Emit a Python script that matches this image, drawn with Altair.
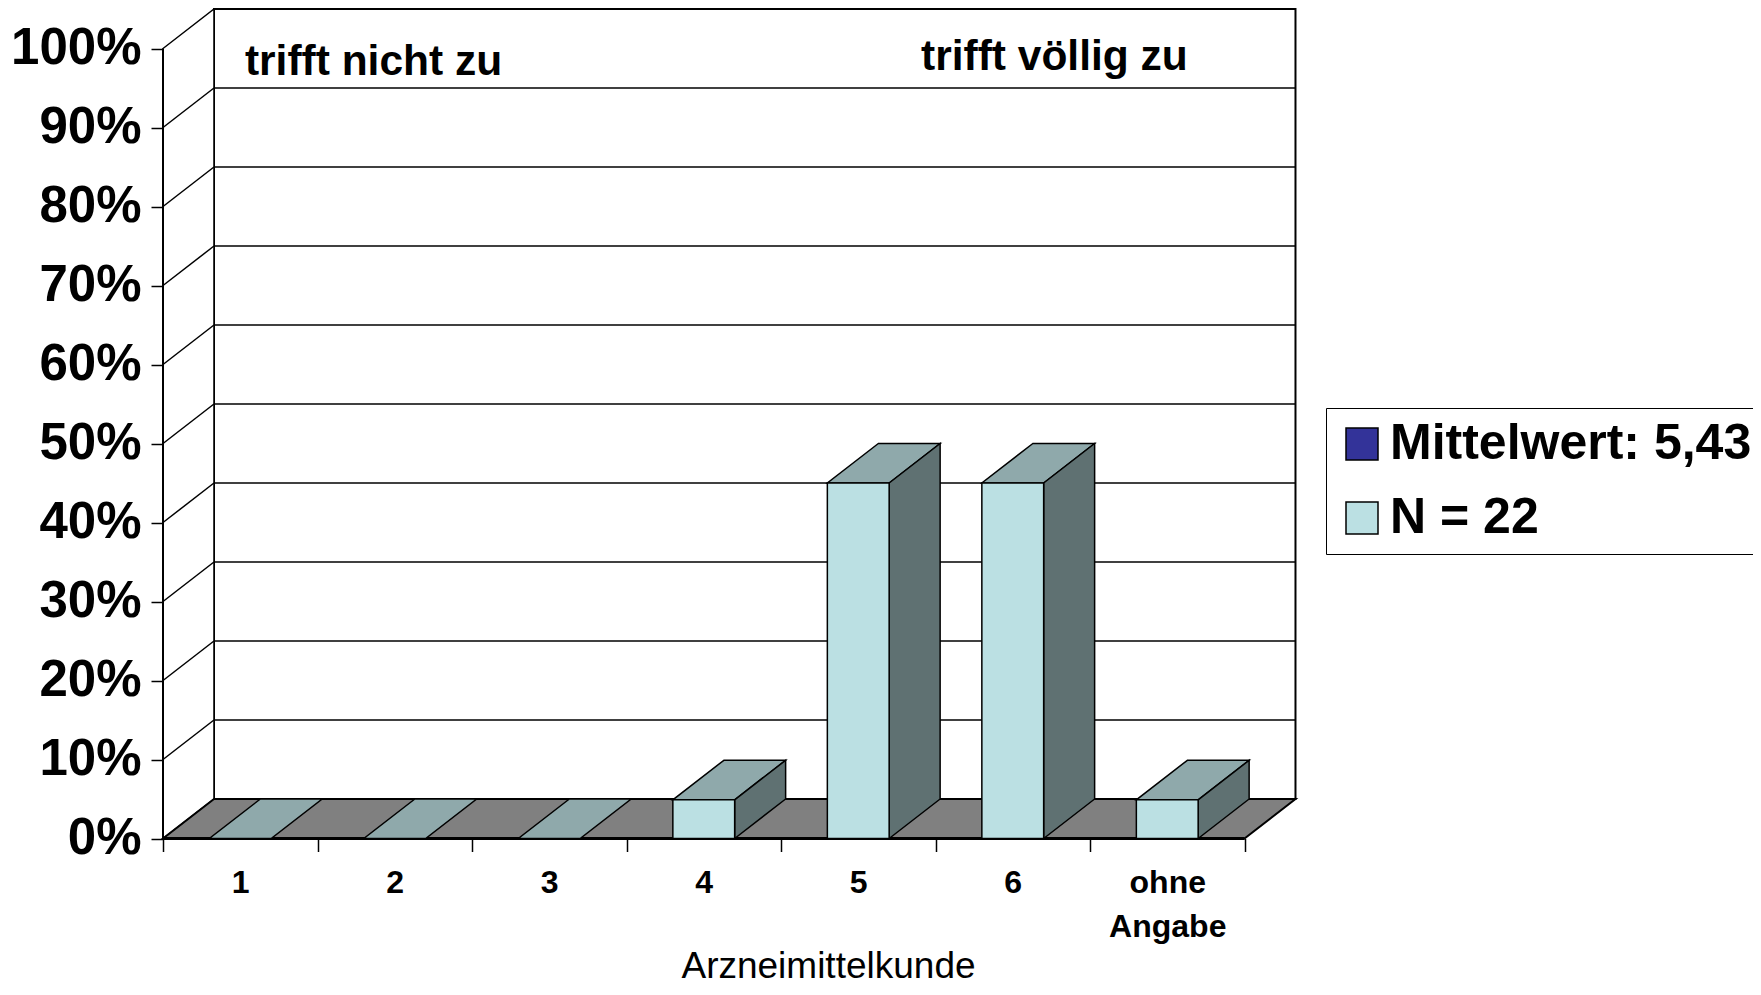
import altair as alt
import pandas as pd

# ---- data ----
categories = ["1", "2", "3", "4", "5", "6", "ohne Angabe"]
values = [0.0, 0.0, 0.0, 4.9, 45.0, 45.0, 4.9]
y_ticks = [0, 10, 20, 30, 40, 50, 60, 70, 80, 90, 100]
legend_labels = ["Mittelwert: 5,43", "N = 22"]
legend_colors = ["#333399", "#BBE0E3"]
notes = ["trifft nicht zu", "trifft völlig zu"]
note_x = [0.53, 4.906]
note_y = [96.6, 97.3]

# ---- styling / geometry constants ----
DX = 0.33      # depth offset in category units
DY = 5.0       # depth offset in percent units
BW = 0.4       # bar width in category units
N = len(categories)
FONT = "Liberation Sans"
TOP_C = "#8FA9AB"
SIDE_C = "#5F7172"
FLOOR_C = "#808080"

W = 7.5 * 154.5
H = 830.5
x_scale = alt.Scale(domain=[0, 7.5], nice=False, zero=False)
y_scale = alt.Scale(domain=[0, 105.13], nice=False, zero=False)

def label_js(c):
    parts = c.split(" ")
    if len(parts) > 1:
        return "[" + ",".join("'" + p + "'" for p in parts) + "]"
    return "'" + c + "'"

labels_arr = "[" + ",".join(label_js(c) for c in categories) + "]"

x_axis = alt.Axis(
    values=list(range(N + 1)),
    labelExpr=f"datum.value < {N} ? {labels_arr}[datum.value] : ''",
    tickSize=13, tickWidth=1.5, tickColor="black",
    domain=False, grid=False,
    labelFont=FONT, labelFontSize=32, labelFontWeight="bold", labelColor="black",
    labelPadding=16, labelOffset=W / 7.5 / 2, labelLineHeight=44,
    labelFlush=False, labelOverlap=False, labelAlign="center", labelBaseline="top",
    title="Arzneimittelkunde", titleFont=FONT, titleFontSize=37,
    titleFontWeight="normal", titleColor="black",
    titleX=665, titleY=139, titleBaseline="alphabetic", titleAlign="center",
)
y_axis = alt.Axis(
    values=y_ticks,
    labelExpr="datum.value + '%'",
    tickSize=12, tickWidth=1.5, tickColor="black",
    domain=False, grid=False,
    labelFont=FONT, labelFontSize=51, labelFontWeight="bold", labelColor="black",
    labelPadding=10, labelFlush=False, labelOverlap=False,
    title=None,
)

def X(field="x", **kw):
    return alt.X(f"{field}:Q", scale=x_scale, axis=x_axis, title="Arzneimittelkunde", **kw)

def Y(field="y", **kw):
    return alt.Y(f"{field}:Q", scale=y_scale, axis=y_axis, title=None, **kw)

# back wall
wall = pd.DataFrame({"x": [DX], "x2": [N + DX], "y": [DY], "y2": [100 + DY]})
back = alt.Chart(wall).mark_rect(fill="white", stroke="black", strokeWidth=2).encode(
    x=X(), x2="x2:Q", y=Y(), y2="y2:Q",
)

# back wall gridlines
gl = pd.DataFrame({"v": y_ticks[1:-1]})
gl["x"] = DX
gl["x2"] = N + DX
gl["y"] = gl["v"] + DY
grid = alt.Chart(gl).mark_rule(color="black", strokeWidth=1.5).encode(
    x=X(), x2="x2:Q", y=Y(),
)

# left wall
lw = pd.DataFrame({"x": [0, DX], "y": [0, DY], "y2": [100, 100 + DY]})
left = alt.Chart(lw).mark_area(orient="vertical", fill="white", stroke="black", strokeWidth=1.5).encode(
    x=X(), y=Y(stack=None), y2="y2:Q",
)

# left wall diagonals
dg = pd.DataFrame({"v": y_ticks[1:-1]})
dg["x"] = 0.0
dg["x2"] = DX
dg["y"] = dg["v"]
dg["y2"] = dg["v"] + DY
diag = alt.Chart(dg).mark_rule(color="black", strokeWidth=1.5).encode(
    x=X(), x2="x2:Q", y=Y(), y2="y2:Q",
)

# front axis line
fa = pd.DataFrame({"x": [0], "y": [0], "y2": [100]})
front_axis = alt.Chart(fa).mark_rule(color="black", strokeWidth=2).encode(
    x=X(), y=Y(), y2="y2:Q",
)

# floor
fl = pd.DataFrame({"y": [0, DY], "x": [0, DX], "x2": [N, N + DX]})
floor = alt.Chart(fl).mark_area(orient="horizontal", fill=FLOOR_C, stroke="black", strokeWidth=2).encode(
    y=Y(), x=X(stack=None), x2="x2:Q",
)
fe = pd.DataFrame({"x": [0], "x2": [N], "y": [0]})
front_edge = alt.Chart(fe).mark_rule(color="black", strokeWidth=3).encode(
    x=X(), x2="x2:Q", y=Y(),
)

# bars
top_rows, side_rows, front_rows = [], [], []
for i, (c, v) in enumerate(zip(categories, values)):
    x0 = i + 0.5 - BW / 2
    x1 = i + 0.5 + BW / 2
    top_rows.append({"cat": c, "y": v, "x": x0, "x2": x1})
    top_rows.append({"cat": c, "y": v + DY, "x": x0 + DX, "x2": x1 + DX})
    if v > 0:
        side_rows.append({"cat": c, "x": x1, "y": 0.0, "y2": v})
        side_rows.append({"cat": c, "x": x1 + DX, "y": DY, "y2": v + DY})
        front_rows.append({"cat": c, "x": x0, "x2": x1, "y": 0.0, "y2": v, "series": legend_labels[1]})

tops = alt.Chart(pd.DataFrame(top_rows)).mark_area(
    orient="horizontal", fill=TOP_C, stroke="black", strokeWidth=1.5
).encode(
    y=Y(), x=X(stack=None), x2="x2:Q", detail="cat:N",
)
sides = alt.Chart(pd.DataFrame(side_rows)).mark_area(
    orient="vertical", fill=SIDE_C, stroke="black", strokeWidth=1.5
).encode(
    x=X(), y=Y(stack=None), y2="y2:Q", detail="cat:N",
)
fronts = alt.Chart(pd.DataFrame(front_rows)).mark_rect(stroke="black", strokeWidth=1.5).encode(
    x=X(), x2="x2:Q", y=Y(), y2="y2:Q",
    color=alt.Color(
        "series:N",
        scale=alt.Scale(domain=legend_labels, range=legend_colors),
        legend=alt.Legend(
            title=None, orient="none", legendX=1163, legendY=400,
            fillColor="white", strokeColor="black", padding=11,
            symbolType="square", symbolSize=1024, symbolStrokeColor="black",
            symbolStrokeWidth=1.5, symbolOpacity=1,
            labelFont=FONT, labelFontSize=50, labelFontWeight="bold", labelColor="black",
            labelOffset=3, labelLimit=800, rowPadding=24,
        ),
    ),
)

nt = pd.DataFrame({"x": note_x, "y": note_y, "t": notes})
texts = alt.Chart(nt).mark_text(
    align="left", baseline="alphabetic", font=FONT, fontSize=42.5, fontWeight="bold", color="black"
).encode(
    x=X(), y=Y(), text="t:N",
)

chart = alt.layer(back, grid, left, diag, front_axis, floor, front_edge, tops, sides, fronts, texts).properties(
    width=W, height=H,
    autosize=alt.AutoSizeParams(type="none"),
    padding={"left": 155, "top": 0, "right": 1745 - 155 - W, "bottom": 979 - H},
).configure_view(strokeWidth=0)

chart.save("out.html", embed_options={"renderer": "svg", "actions": False})
